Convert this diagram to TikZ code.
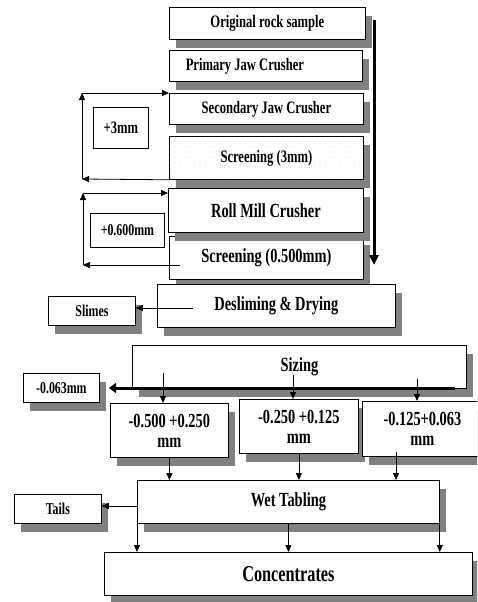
\documentclass[tikz,border=0pt]{standalone}
\usepackage{fontspec}
\setmainfont{Liberation Serif}[FakeStretch=0.72]
\usetikzlibrary{shadows,arrows.meta,patterns.meta}
\begin{document}
\begin{tikzpicture}[x=1pt,y=-1pt,
  box/.style={draw=black, line width=0.8pt, fill=white, inner sep=0pt, anchor=north west,
    general shadow={fill=gray, shadow xshift=7pt, shadow yshift=-9pt}},
  plainbox/.style={draw=black, line width=0.8pt, fill=white, inner sep=0pt, anchor=north west},
  dotfill/.style={postaction={pattern={Dots[distance=5pt,radius=0.45pt]}, pattern color=gray!45}},
  fs/.style={font=\bfseries\fontsize{16.5}{18}\selectfont},
  fm/.style={font=\bfseries\fontsize{17.5}{19}\selectfont},
  fl/.style={font=\bfseries\fontsize{20}{20}\selectfont},
  fx/.style={font=\bfseries\fontsize{22.6}{24}\selectfont},
  arr/.style={line width=0.8pt, -{Triangle[length=7pt,width=6pt]}},
  thickarr/.style={line width=3pt, -{Triangle[length=10pt,width=9pt]}},
  thickarrh/.style={line width=3pt, -{Triangle[length=7pt,width=10pt]}}]
\useasboundingbox (0,0) rectangle (477,602);
\clip (0,0) rectangle (477,602);
% boxes
\node[box,fm,minimum width=196pt,minimum height=32pt] (orig) at (169,7) {Original rock sample};
\node[box,fm,minimum width=193pt,minimum height=31pt] (prim) at (169,50) {Primary Jaw Crusher\hspace*{42pt}};
\node[box,fm,minimum width=194pt,minimum height=31pt] (sec) at (169,93) {Secondary Jaw Crusher};
\node[box,fm,dotfill,minimum width=194pt,minimum height=43pt] (scr1) at (169,136) {Screening (3mm)};
\node[box,fl,minimum width=194pt,minimum height=43pt] (scr2) at (169,236) {Screening (0.500mm)};
\node[box,fl,minimum width=195pt,minimum height=44pt] (roll) at (168,188) {Roll Mill Crusher};
\node[box,fl,minimum width=238pt,minimum height=43pt] (desl) at (157,284) {Desliming \& Drying};
\node[box,fs,minimum width=87pt,minimum height=29pt] (slimes) at (48,296) {Slimes};
\node[plainbox,fm,minimum width=55pt,minimum height=41pt] (p3) at (93,107) {+3mm};
\node[plainbox,fs,minimum width=74pt,minimum height=34pt] (p06) at (90,213) {+0.600mm};
\node[box,fl,minimum width=334pt,minimum height=43pt] (sizing) at (132,345) {Sizing};
\node[box,fs,minimum width=76pt,minimum height=29pt] (m063) at (23,373) {-0.063mm};
\node[box,fl,align=center,minimum width=118pt,minimum height=54pt] (b1) at (110,403) {-0.500 +0.250\\mm};
\node[box,fl,align=center,minimum width=119pt,minimum height=54pt] (b2) at (239,399) {-0.250 +0.125\\mm};
\node[box,fl,align=center,minimum width=120pt,minimum height=55pt] (b3) at (362,401) {-0.125+0.063\\mm};
\node[box,fl,minimum width=302pt,minimum height=43pt] (wet) at (137,480) {Wet Tabling};
\node[box,fs,minimum width=87pt,minimum height=29pt] (tails) at (14,494) {Tails};
\node[box,fx,minimum width=368pt,minimum height=43pt] (conc) at (104,552) {Concentrates};
% main flow arrow
\coordinate (topA) at (374,20);
\coordinate (botA) at (374,265);
\draw[thickarr] (topA) -- (botA);
% +3mm loop
\coordinate (l1b) at (82,179);
\coordinate (l1t) at (82,93);
\draw[arr] (scr1.south west) -- (l1b);
\draw[arr] (l1b) -- (l1t);
\draw[arr] (l1t) -- (sec.north west);
% +0.600mm loop
\coordinate (l2s) at (180,265);
\coordinate (l2b) at (83,265);
\coordinate (l2t) at (83,193);
\draw[arr] (l2s) -- (l2b);
\draw[arr] (l2b) -- (l2t);
\draw[arr] (l2t) -- (l2t -| roll.west);
% slimes
\coordinate (sl) at (193,308);
\draw[arr] (sl) -- (sl -| slimes.east);
% -0.063mm
\coordinate (sz) at (455,388);
\coordinate (szend) at (109,388);
\draw[thickarrh] (sz) -- (szend);
% sizing fractions
\coordinate (d1) at (163,373);
\coordinate (d2) at (293,375);
\coordinate (d3) at (417,379);
\draw[arr] (d1) -- (d1 |- b1.north);
\draw[arr] (d2) -- (d2 |- b2.north);
\draw[arr] (d3) -- (d3 |- b3.north);
% fractions to wet tabling
\coordinate (e3) at (396,452);
\draw[arr] (b1.south) -- (b1.south |- wet.north);
\draw[arr] (b2.south) -- (b2.south |- wet.north);
\draw[arr] (e3) -- (e3 |- wet.north);
% tails
\coordinate (tl) at (137,506);
\draw[arr] (tl) -- (tl -| tails.east);
% concentrates
\draw[arr] (wet.south west) -- (wet.south west |- conc.north);
\draw[arr] (wet.south) -- (wet.south |- conc.north);
\draw[arr] (wet.south east) -- (wet.south east |- conc.north);
\end{tikzpicture}
\end{document}
